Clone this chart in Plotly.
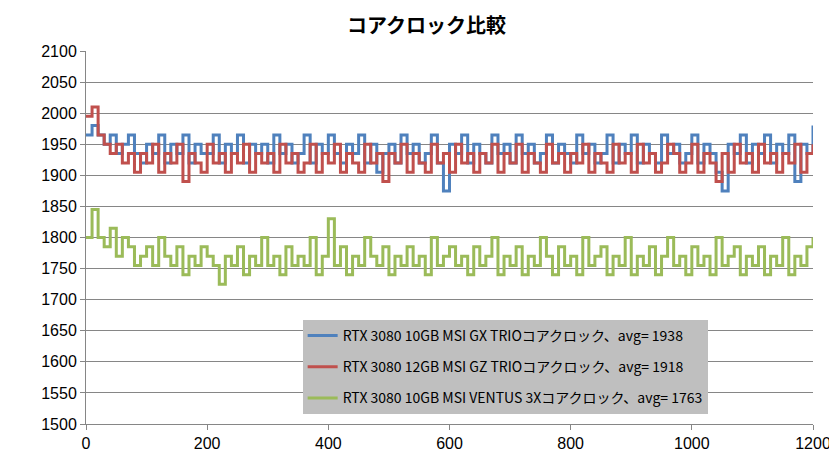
import plotly.graph_objects as go

x_vals = list(range(0, 1201, 10))

gx_trio = [
    1965, 1980, 1965, 1950, 1965, 1935, 1950, 1965, 1935, 1920,
    1950, 1935, 1965, 1920, 1950, 1935, 1965, 1920, 1950, 1935,
    1935, 1965, 1920, 1950, 1935, 1965, 1920, 1950, 1935, 1950,
    1920, 1965, 1935, 1950, 1920, 1935, 1965, 1920, 1950, 1935,
    1965, 1935, 1920, 1950, 1935, 1965, 1920, 1950, 1905, 1935,
    1950, 1920, 1965, 1935, 1950, 1920, 1935, 1965, 1920, 1875,
    1950, 1935, 1965, 1920, 1950, 1935, 1920, 1965, 1935, 1950,
    1920, 1965, 1935, 1950, 1920, 1935, 1965, 1920, 1950, 1935,
    1920, 1965, 1935, 1950, 1920, 1935, 1965, 1920, 1950, 1935,
    1965, 1920, 1950, 1935, 1920, 1965, 1935, 1950, 1920, 1935,
    1965, 1920, 1950, 1935, 1905, 1875, 1950, 1935, 1965, 1920,
    1950, 1935, 1965, 1920, 1950, 1935, 1965, 1890, 1950, 1935,
    1980,
]

gz_trio = [
    1995, 2010, 1965, 1950, 1935, 1950, 1920, 1935, 1905, 1935,
    1920, 1950, 1905, 1935, 1920, 1950, 1890, 1935, 1920, 1905,
    1950, 1920, 1935, 1905, 1935, 1920, 1950, 1905, 1935, 1920,
    1935, 1905, 1950, 1920, 1935, 1905, 1920, 1950, 1905, 1935,
    1920, 1950, 1905, 1935, 1920, 1905, 1950, 1920, 1935, 1890,
    1935, 1920, 1950, 1905, 1935, 1920, 1905, 1950, 1920, 1935,
    1905, 1950, 1920, 1935, 1905, 1935, 1920, 1950, 1905, 1935,
    1920, 1950, 1905, 1935, 1920, 1905, 1950, 1920, 1935, 1905,
    1935, 1920, 1950, 1905, 1935, 1920, 1905, 1950, 1920, 1935,
    1905, 1950, 1920, 1935, 1905, 1920, 1950, 1935, 1905, 1920,
    1950, 1905, 1935, 1920, 1890, 1935, 1905, 1950, 1920, 1935,
    1905, 1950, 1920, 1935, 1905, 1935, 1920, 1950, 1905, 1935,
    1950,
]

ventus = [
    1800, 1845, 1800, 1785, 1815, 1770, 1800, 1785, 1755, 1770,
    1785, 1755, 1800, 1770, 1755, 1785, 1740, 1770, 1755, 1785,
    1770, 1755, 1725, 1770, 1755, 1785, 1740, 1770, 1755, 1800,
    1755, 1770, 1740, 1785, 1755, 1770, 1755, 1800, 1740, 1770,
    1830, 1755, 1785, 1740, 1770, 1755, 1800, 1770, 1755, 1785,
    1740, 1770, 1755, 1785, 1755, 1770, 1740, 1800, 1755, 1770,
    1785, 1755, 1770, 1740, 1785, 1755, 1770, 1800, 1740, 1770,
    1755, 1785, 1740, 1770, 1755, 1800, 1770, 1740, 1785, 1755,
    1770, 1740, 1800, 1755, 1770, 1785, 1740, 1770, 1755, 1800,
    1740, 1770, 1755, 1785, 1740, 1770, 1800, 1755, 1770, 1740,
    1785, 1755, 1770, 1740, 1800, 1755, 1770, 1785, 1740, 1770,
    1755, 1785, 1740, 1770, 1755, 1800, 1740, 1770, 1755, 1785,
    1800,
]

series = [
    ("RTX 3080 10GB MSI GX TRIOコアクロック、avg= 1938", gx_trio, "#4F81BD"),
    ("RTX 3080 12GB MSI GZ TRIOコアクロック、avg= 1918", gz_trio, "#C0504D"),
    ("RTX 3080 10GB MSI VENTUS 3Xコアクロック、avg= 1763", ventus, "#9BBB59"),
]

fig = go.Figure()
for i, (name, vals, color) in enumerate(series):
    fig.add_trace(go.Scatter(x=x_vals, y=vals, name=name, mode="lines",
                             legendgroup=f"g{i}",
                             line=dict(color=color, width=3, shape="hv")))

font = "Liberation Sans, Noto Sans CJK JP"
fig.update_layout(
    width=837, height=459,
    margin=dict(l=78, r=32, t=43, b=43),
    paper_bgcolor="white", plot_bgcolor="white",
    font=dict(family=font, size=16, color="black"),
    title=dict(text="<b>コアクロック比較</b>", x=0.5, xanchor="center", y=0.975,
               yanchor="top", font=dict(size=20, family="Noto Sans CJK JP")),
    legend=dict(x=0.298, y=0.279, xanchor="left", yanchor="top",
                bgcolor="#BFBFBF", font=dict(size=14, family="Noto Sans CJK JP"),
                itemwidth=30, tracegroupgap=10, entrywidth=500),
    showlegend=True,
)
fig.update_xaxes(range=[0, 1200], dtick=200, showgrid=False, showline=True,
                 linecolor="#868686", ticks="outside", tickcolor="#868686",
                 ticklen=5, zeroline=False, automargin=False)
fig.update_yaxes(range=[1500, 2100], dtick=50, showgrid=True, gridcolor="#868686",
                 showline=True, linecolor="#868686", ticks="outside",
                 tickcolor="#868686", ticklen=5, zeroline=False, automargin=False)

fig.write_html("out.html")
